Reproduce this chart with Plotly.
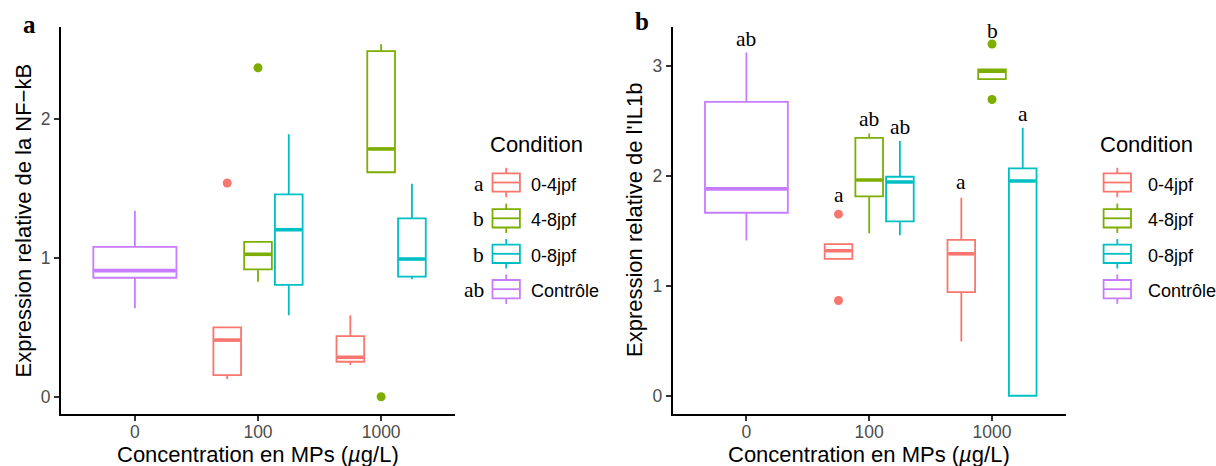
import plotly.graph_objects as go

W, H = 1216, 466

# ---------------- data ----------------
conditions = ["0-4jpf", "4-8jpf", "0-8jpf", "Contrôle"]
colors = ["#F8766D", "#7CAE00", "#00BFC4", "#C77CFF"]
concentrations = ["0", "100", "1000"]

# boxes (same order for both panels)
box_cond = ["Contrôle", "0-4jpf", "4-8jpf", "0-8jpf", "0-4jpf", "4-8jpf", "0-8jpf"]
box_conc = ["0", "100", "100", "100", "1000", "1000", "1000"]

# panel a : NF-kB
a_lower = [0.637, 0.128, 0.829, 0.586, 0.228, 1.617, 0.846]
a_q1 = [0.857, 0.156, 0.918, 0.805, 0.252, 1.617, 0.865]
a_median = [0.908, 0.408, 1.026, 1.203, 0.284, 1.785, 0.992]
a_q3 = [1.080, 0.500, 1.115, 1.458, 0.437, 2.490, 1.285]
a_upper = [1.340, 0.500, 1.115, 1.890, 0.586, 2.540, 1.535]
a_out_cond = ["0-4jpf", "4-8jpf", "4-8jpf"]
a_out_conc = ["100", "100", "1000"]
a_out_y = [1.54, 2.37, 0.0]
a_legend_letters = ["a", "b", "b", "ab"]

# panel b : IL1b
b_lower = [1.410, 1.243, 1.476, 1.458, 0.493, 2.877, 0.000]
b_q1 = [1.663, 1.243, 1.812, 1.585, 0.941, 2.877, 0.000]
b_median = [1.880, 1.318, 1.960, 1.942, 1.290, 2.950, 1.951]
b_q3 = [2.670, 1.377, 2.344, 1.990, 1.416, 2.965, 2.066]
b_upper = [3.120, 1.377, 2.384, 2.314, 1.800, 2.965, 2.435]
b_out_cond = ["0-4jpf", "0-4jpf", "4-8jpf", "4-8jpf"]
b_out_conc = ["100", "100", "1000", "1000"]
b_out_y = [1.65, 0.865, 3.197, 2.692]
b_letters = ["ab", "a", "ab", "ab", "a", "b", "a"]
b_letter_y = [3.243, 1.821, 2.517, 2.442, 1.943, 3.318, 2.563]

# ---------------- helpers ----------------
DODGE = 0.75
PAD = 0.9


def dodge(cond, conc):
    present = [c for c in conditions
               if any(bc == c and bk == conc for bc, bk in zip(box_cond, box_conc))]
    n = len(present)
    i = present.index(cond)
    slot = DODGE / n
    centre = concentrations.index(conc) + (i - (n - 1) / 2) * slot
    return centre, slot * PAD


def px(x):
    return x / W


def py(y):
    return 1 - y / H


fig = go.Figure()
LW = 1.8
SANS = "Liberation Sans, Arial, sans-serif"
SERIF = "Liberation Serif, Times New Roman, serif"

panels = [
    dict(xa="x", ya="y", lo=a_lower, q1=a_q1, me=a_median, q3=a_q3, up=a_upper,
         oc=a_out_cond, ok=a_out_conc, oy=a_out_y),
    dict(xa="x2", ya="y2", lo=b_lower, q1=b_q1, me=b_median, q3=b_q3, up=b_upper,
         oc=b_out_cond, ok=b_out_conc, oy=b_out_y),
]

for p in panels:
    for k, (cond, conc) in enumerate(zip(box_cond, box_conc)):
        col = colors[conditions.index(cond)]
        c, w = dodge(cond, conc)
        fig.add_trace(go.Box(
            x=[c], q1=[p["q1"][k]], median=[p["me"][k]], q3=[p["q3"][k]],
            lowerfence=[p["lo"][k]], upperfence=[p["up"][k]],
            width=w, whiskerwidth=0, boxpoints=False,
            line=dict(color=col, width=LW), fillcolor="rgba(0,0,0,0)",
            xaxis=p["xa"], yaxis=p["ya"], showlegend=False, hoverinfo="skip"))
        # thicker median (ggplot fatten = 2)
        fig.add_trace(go.Scatter(
            x=[c - w / 2 + LW / 2 / 123, c + w / 2 - LW / 2 / 123],
            y=[p["me"][k], p["me"][k]], mode="lines",
            line=dict(color=col, width=LW * 2),
            xaxis=p["xa"], yaxis=p["ya"], showlegend=False, hoverinfo="skip"))
    ox, ocol = [], []
    for cond, conc in zip(p["oc"], p["ok"]):
        ox.append(dodge(cond, conc)[0])
        ocol.append(colors[conditions.index(cond)])
    fig.add_trace(go.Scatter(
        x=ox, y=p["oy"], mode="markers",
        marker=dict(color=ocol, size=9, line=dict(width=0)),
        xaxis=p["xa"], yaxis=p["ya"], showlegend=False, hoverinfo="skip",
        cliponaxis=False))

annotations = []
# significance letters, panel b
for k, (cond, conc) in enumerate(zip(box_cond, box_conc)):
    c, _ = dodge(cond, conc)
    annotations.append(dict(x=c, y=b_letter_y[k], xref="x2", yref="y2", text=b_letters[k],
                            showarrow=False, font=dict(family=SERIF, size=21.5, color="black"),
                            xanchor="center", yanchor="middle"))

# axis titles
xtitle = "Concentration en MPs (<i>µ</i>g/L)"
for cx in [258, 869.2]:
    annotations.append(dict(x=px(cx), y=py(454.6), xref="paper", yref="paper", text=xtitle,
                            showarrow=False, font=dict(family=SANS, size=22, color="black"),
                            xanchor="center", yanchor="middle"))
for cx, t in [(23, "Expression relative de la NF−kB"), (634.5, "Expression relative de l'IL1b")]:
    annotations.append(dict(x=px(cx), y=py(220.5), xref="paper", yref="paper", text=t,
                            textangle=-90, showarrow=False,
                            font=dict(family=SANS, size=22, color="black"),
                            xanchor="center", yanchor="middle"))
# panel tags
for cx, cy, t in [(29.2, 24.0, "a"), (641.7, 21.5, "b")]:
    annotations.append(dict(x=px(cx), y=py(cy), xref="paper", yref="paper", text="<b>%s</b>" % t,
                            showarrow=False, font=dict(family=SERIF, size=25, color="black"),
                            xanchor="center", yanchor="middle"))

# legends (drawn as keys)
shapes = []
rows = [182.5, 218.3, 253.8, 289.2]
legends = [dict(key_x=506.2, lab_x=529.3, title_x=536, letters=a_legend_letters),
           dict(key_x=1117.3, lab_x=1145.7, title_x=1146.7, letters=None)]
for L in legends:
    annotations.append(dict(x=px(L["title_x"]), y=py(145), xref="paper", yref="paper",
                            text="Condition", showarrow=False,
                            font=dict(family=SANS, size=22, color="black"),
                            xanchor="center", yanchor="middle"))
    for i, cond in enumerate(conditions):
        col = colors[i]
        ry = rows[i]
        kx = L["key_x"]
        hw, hh = 13.7, 9.2
        shapes.append(dict(type="rect", xref="paper", yref="paper",
                           x0=px(kx - hw), x1=px(kx + hw), y0=py(ry - hh), y1=py(ry + hh),
                           line=dict(color=col, width=LW), fillcolor="white"))
        shapes.append(dict(type="line", xref="paper", yref="paper",
                           x0=px(kx - hw), x1=px(kx + hw), y0=py(ry), y1=py(ry),
                           line=dict(color=col, width=LW)))
        shapes.append(dict(type="line", xref="paper", yref="paper",
                           x0=px(kx), x1=px(kx), y0=py(ry - hh - 5.5), y1=py(ry - hh),
                           line=dict(color=col, width=LW)))
        shapes.append(dict(type="line", xref="paper", yref="paper",
                           x0=px(kx), x1=px(kx), y0=py(ry + hh), y1=py(ry + hh + 5.5),
                           line=dict(color=col, width=LW)))
        annotations.append(dict(x=px(L["lab_x"]), y=py(ry + 2), xref="paper", yref="paper",
                                text=cond, showarrow=False,
                                font=dict(family=SANS, size=18, color="black"),
                                xanchor="left", yanchor="middle"))
        if L["letters"]:
            annotations.append(dict(x=px(486), y=py(ry + 1), xref="paper", yref="paper",
                                    text=L["letters"][i], showarrow=False,
                                    font=dict(family=SERIF, size=21.5, color="black"),
                                    xanchor="right", yanchor="middle"))

axis_common = dict(showline=True, linecolor="black", linewidth=LW, ticks="outside",
                   ticklen=5, tickwidth=LW, tickcolor="#333333", showgrid=False,
                   zeroline=False, tickfont=dict(family=SANS, size=17.5, color="#4D4D4D"),
                   fixedrange=True)
ydom = [py(414), py(27)]

fig.update_layout(
    width=W, height=H, margin=dict(l=0, r=0, t=0, b=0),
    paper_bgcolor="white", plot_bgcolor="white",
    xaxis=dict(domain=[px(61), px(455)], range=[-0.6, 2.6], tickvals=[0, 1, 2],
               ticktext=concentrations, anchor="y", ticklabelstandoff=-4, **axis_common),
    yaxis=dict(domain=ydom, range=[-0.1246, 2.6635], tickvals=[0, 1, 2], anchor="x",
               **axis_common),
    xaxis2=dict(domain=[px(672.7), px(1065.7)], range=[-0.6, 2.6], tickvals=[0, 1, 2],
                ticktext=concentrations, anchor="y2", ticklabelstandoff=-4, **axis_common),
    yaxis2=dict(domain=ydom, range=[-0.166, 3.351], tickvals=[0, 1, 2, 3], anchor="x2",
                **axis_common),
    annotations=annotations, shapes=shapes, showlegend=False,
)

fig.write_html("out.html")
